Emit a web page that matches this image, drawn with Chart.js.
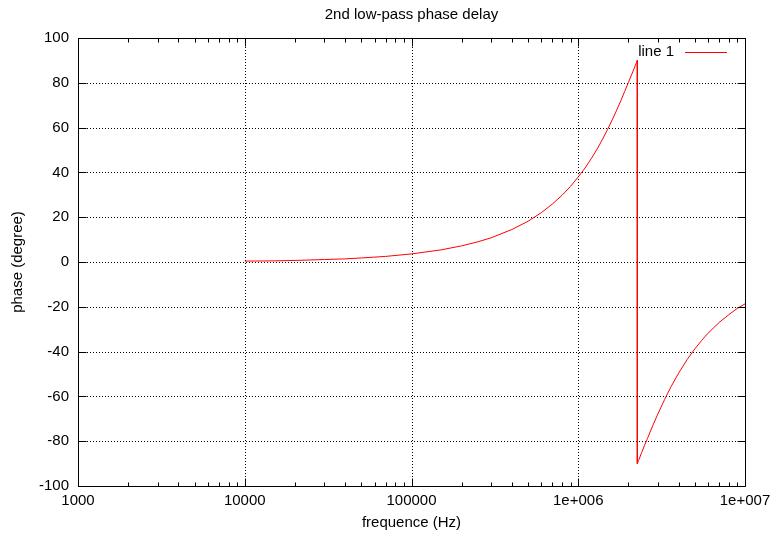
<!DOCTYPE html>
<html>
<head>
<meta charset="utf-8">
<title>2nd low-pass phase delay</title>
<script src="https://cdn.jsdelivr.net/npm/chart.js@4/dist/chart.umd.min.js"></script>
<style>
  html, body { margin: 0; padding: 0; background: #fff; }
  #wrap { width: 774px; height: 538px; }
</style>
</head>
<body>
<div id="wrap"><canvas id="myChart"></canvas></div>
<script>
// phase of the 2nd order low-pass, degrees vs Hz
const freqHz = [10000, 15000, 20000, 30000, 40000, 50000, 70000, 100000, 150000,
  200000, 250000, 300000, 400000, 500000, 600000, 700000, 800000, 900000,
  1000000, 1100000, 1200000, 1300000, 1400000, 1500000, 1600000, 1700000, 1800000,
  1900000, 2000000, 2100000, 2200000, 2260000,
  2260000, 2300000, 2400000, 2500000, 2600000, 2800000, 3000000, 3300000, 3600000,
  4000000, 4500000, 5000000, 5500000, 6000000, 7000000, 8000000, 9000000, 10000000];
const phaseDeg = [0.4, 0.5, 0.7, 1.1, 1.4, 1.8, 2.5, 3.6, 5.4,
  7.2, 9.0, 10.8, 14.5, 18.2, 22.0, 25.9, 29.8, 33.8,
  38.0, 42.0, 46.3, 50.5, 54.9, 59.2, 63.5, 67.8, 72.0,
  76.2, 80.2, 84.0, 87.8, 90.0,
  -90.0, -88.6, -85.1, -81.8, -78.8, -73.0, -67.9, -61.3, -55.7,
  -49.6, -43.5, -38.8, -35.0, -31.8, -27.0, -23.5, -20.7, -18.7];

const xMajor = [1000, 10000, 100000, 1000000, 10000000];
const xTickLabels = ["1000", "10000", "100000", "1e+006", "1e+007"];
const yMin = -100, yMax = 100, yStep = 20;

const chartTitle = "2nd low-pass phase delay";
const seriesName = "line 1";
const fontFam = "'Liberation Sans', Arial, sans-serif";

// minor ticks 2..9 inside every decade
let xAllTicks = [];
for (let i = 0; i < xMajor.length; i++) {
  xAllTicks.push(xMajor[i]);
  if (i < xMajor.length - 1) {
    for (let m = 2; m <= 9; m++) xAllTicks.push(xMajor[i] * m);
  }
}

let points = freqHz.map(function (f, i) {
  return { x: f, y: phaseDeg[i] };
});

function px(v) {
  return Math.round(v) + 0.5;
}

// gnuplot style frame: dotted grid, inward ticks on all sides, key at top right
const gnuFrame = {
  id: "gnuFrame",
  beforeDatasetsDraw(chart) {
    const ctx = chart.ctx;
    const a = chart.chartArea;
    const x = chart.scales.x;
    const y = chart.scales.y;
    ctx.save();
    ctx.strokeStyle = "#000";
    ctx.lineWidth = 1;
    ctx.setLineDash([1, 2]);
    ctx.beginPath();
    xMajor.forEach(function (v) {
      let xp = px(x.getPixelForValue(v));
      ctx.moveTo(xp, a.top);
      ctx.lineTo(xp, a.bottom);
    });
    for (let v = yMin; v <= yMax; v += yStep) {
      let yp = px(y.getPixelForValue(v));
      ctx.moveTo(a.left, yp);
      ctx.lineTo(a.right, yp);
    }
    ctx.stroke();
    ctx.restore();
  },
  afterDatasetsDraw(chart) {
    const ctx = chart.ctx;
    const a = chart.chartArea;
    const x = chart.scales.x;
    const y = chart.scales.y;
    const L = px(a.left), R = px(a.right), T = px(a.top), B = px(a.bottom);
    ctx.save();
    ctx.strokeStyle = "#000";
    ctx.lineWidth = 1;
    ctx.setLineDash([]);
    ctx.beginPath();
    ctx.rect(L, T, R - L, B - T);
    xAllTicks.forEach(function (v) {
      let xp = px(x.getPixelForValue(v));
      let len = xMajor.indexOf(v) >= 0 ? 8 : 4;
      ctx.moveTo(xp, B);
      ctx.lineTo(xp, B - len);
      ctx.moveTo(xp, T);
      ctx.lineTo(xp, T + len);
    });
    for (let v = yMin; v <= yMax; v += yStep) {
      let yp = px(y.getPixelForValue(v));
      ctx.moveTo(L, yp);
      ctx.lineTo(L + 8, yp);
      ctx.moveTo(R, yp);
      ctx.lineTo(R - 8, yp);
    }
    ctx.stroke();

    ctx.font = "15px " + fontFam;
    ctx.fillStyle = "#000";
    ctx.textBaseline = "middle";

    // title centred over the plot box
    ctx.textAlign = "center";
    ctx.fillText(chartTitle, (a.left + a.right) / 2, 15);

    // key
    const ds = chart.data.datasets[0];
    const ky = a.top + 14;
    ctx.textAlign = "right";
    ctx.fillText(ds.label, a.right - 71, ky);
    ctx.strokeStyle = ds.borderColor;
    ctx.beginPath();
    ctx.moveTo(a.right - 60, px(ky));
    ctx.lineTo(a.right - 18, px(ky));
    ctx.stroke();
    ctx.restore();
  },
};

let mychart = document.getElementById("myChart").getContext("2d");
let lineChart = new Chart(mychart, {
  type: "line",
  data: {
    datasets: [
      {
        label: seriesName,
        data: points,
        borderColor: "rgb(255, 0, 0)",
        borderWidth: 1,
        pointRadius: 0,
        tension: 0,
        fill: false,
      },
    ],
  },
  options: {
    responsive: true,
    maintainAspectRatio: false,
    animation: false,
    events: [],
    layout: { padding: { left: 0, right: 29, top: 38, bottom: 0 } },
    plugins: {
      legend: { display: false },
      tooltip: { enabled: false },
      title: { display: false },
    },
    scales: {
      x: {
        type: "logarithmic",
        min: 1000,
        max: 10000000,
        grid: { display: false, drawTicks: false },
        border: { display: false },
        afterBuildTicks: function (scale) {
          scale.ticks = xAllTicks.map(function (v) {
            return { value: v };
          });
        },
        afterFit: function (scale) {
          scale.height = 52;
          scale.paddingLeft = 0;
          scale.paddingRight = 0;
        },
        ticks: {
          autoSkip: false,
          maxRotation: 0,
          padding: 6,
          color: "#000",
          font: { family: fontFam, size: 15 },
          callback: function (value) {
            let k = xMajor.indexOf(value);
            return k >= 0 ? xTickLabels[k] : "";
          },
        },
        title: {
          display: true,
          text: "frequence (Hz)",
          color: "#000",
          font: { family: fontFam, size: 15 },
          padding: { top: 0, bottom: 6 },
        },
      },
      y: {
        min: yMin,
        max: yMax,
        grid: { display: false, drawTicks: false },
        border: { display: false },
        afterFit: function (scale) {
          scale.width = 78;
          scale.paddingTop = 0;
          scale.paddingBottom = 0;
        },
        ticks: {
          stepSize: yStep,
          padding: 9,
          color: "#000",
          font: { family: fontFam, size: 15 },
        },
        title: {
          display: true,
          text: "phase (degree)",
          color: "#000",
          font: { family: fontFam, size: 15 },
          padding: { top: 9, bottom: 0 },
        },
      },
    },
  },
  plugins: [gnuFrame],
});
</script>
</body>
</html>
